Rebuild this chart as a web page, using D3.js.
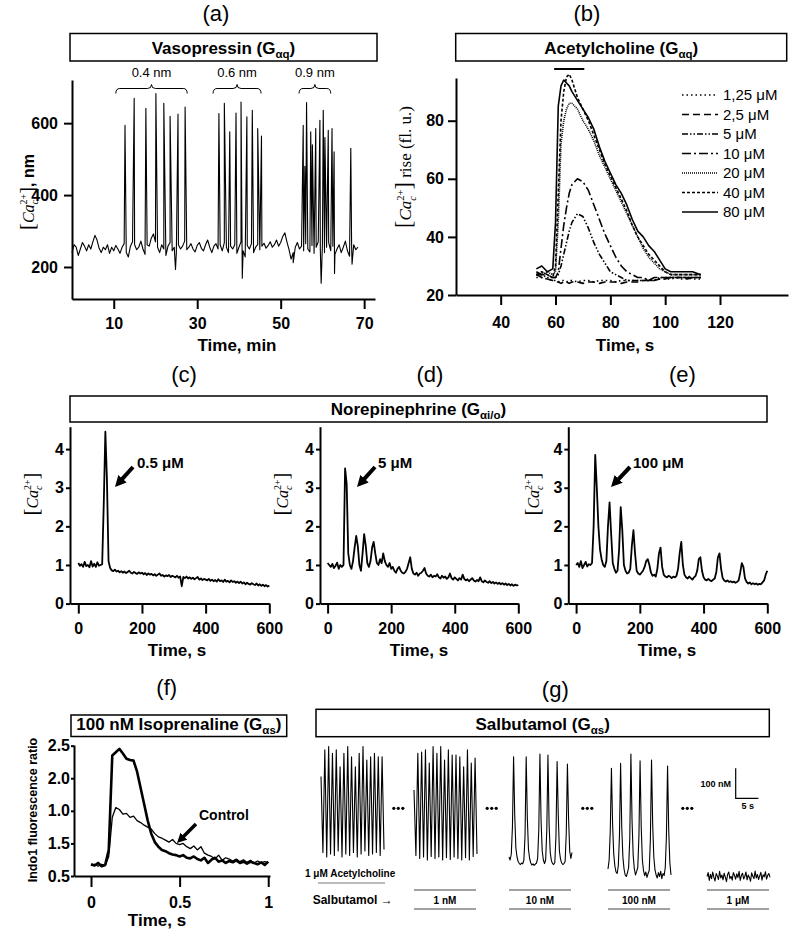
<!DOCTYPE html>
<html lang="en">
<head>
<meta charset="UTF-8">
<title>GPCR calcium responses</title>
<script src="https://d3js.org/d3.v7.min.js"></script>
<style>
  body { margin: 0; background: #fff; }
  svg { display: block; }
  .axis path, .axis line { stroke: #000; stroke-width: 2px; }
  .axis text { font-family: "Liberation Sans", Arial, sans-serif; font-weight: bold; font-size: 16px; fill: #000; }
  .trace { fill: none; stroke: #000; stroke-linejoin: round; }
  .box { fill: #fff; stroke: #000; stroke-width: 1.5px; }
</style>
</head>
<body>
<svg id="chart" width="790" height="930"></svg>
<script>
// ---------- data ----------

// (a) vasopressin: baseline sampled every 0.5 min, spikes added on top
const vasoStep = 0.5;
const vasoBase = [
  240, 262, 255, 232, 250, 268, 258, 245, 262, 250,
  270, 288, 275, 252, 240, 255, 248, 262, 238, 255,
  245, 260, 250, 238, 255, 265, 240, 228, 258, 270,
  262, 248, 255, 272, 250, 235, 262, 258, 280, 292,
  270, 255, 240, 262, 250, 232, 258, 268, 245, 255,
  240, 262, 250, 258, 272, 248, 255, 265, 250, 242,
  260, 268, 252, 245, 262, 275, 255, 240, 258, 265,
  250, 262, 245, 268, 255, 240, 258, 250, 262, 238,
  255, 270, 245, 228, 260, 250, 265, 240, 255, 262,
  248, 258, 266, 252, 260, 270, 255, 262, 275, 258,
  268, 285, 295, 270, 248, 222, 240, 255, 268, 250,
  258, 245, 265, 250, 242, 260, 238, 255, 270, 248,
  262, 240, 255, 268, 245, 258, 235, 250, 262, 240,
  255, 272, 245, 230, 258, 262, 248, 255
];
const vasoSpikeT = [12.7, 14.9, 17.7, 20.1, 22.0, 23.5, 24.8, 25.4, 27.1,
  35.2, 36.5, 37.8, 39.3, 40.5, 40.8, 41.9, 43.2, 44.5, 45.4,
  53.0, 55.4, 55.8, 56.2, 57.2, 57.6, 58.4, 59.4, 59.7, 60.2, 60.6, 61.4, 62.3, 62.8, 62.9, 66.8, 67.1];
const vasoSpikeV = [594, 669, 641, 682, 655, 619, 193, 625, 645,
  627, 655, 576, 628, 659, 169, 618, 636, 585, 564,
  212, 594, 480, 657, 576, 540, 585, 608, 155, 636, 560, 580, 585, 520, 182, 530, 208];
const vasoDoses = ["0.4 nm", "0.6 nm", "0.9 nm"];
const vasoDoseFrom = [10.5, 33.8, 54.4];
const vasoDoseTo = [27.6, 45.3, 62.0];
const vasoXTicks = [10, 30, 50, 70];
const vasoYTicks = [200, 400, 600];

// (b) acetylcholine dose series
const achTime = [53, 55, 57, 59, 60, 61, 62, 63, 64, 65, 66, 68, 70, 72, 74, 76, 78,
  80, 82, 84, 86, 88, 90, 92, 94, 96, 98, 100, 102, 104, 106, 108, 110, 113];
const ach125 = [26, 26, 25.5, 25, 25, 24.5, 25, 25, 24.5, 25, 25, 24.5, 25, 25, 24.5, 25, 25,
  25, 24.5, 25, 25, 25, 25, 25, 25.5, 25, 25.5, 25.5, 25.5, 26, 25.5, 26, 25.5, 25.5];
const ach25 = [27, 26, 25.5, 25, 24.5, 24.5, 24, 24.5, 24.5, 24, 24.5, 24.5, 24, 24.5, 24.5, 24, 24.5,
  24.5, 24.5, 24, 24.5, 24.5, 24.5, 25, 25, 25, 25.5, 25.5, 26, 26, 26, 25.5, 26, 26];
const ach5 = [27, 27, 26, 26, 26, 27, 30, 34, 38, 42, 45, 48, 47, 43, 38, 34, 31,
  28, 27, 26, 25, 25, 25, 25, 25, 25, 26, 26, 26, 26, 26, 26, 26, 26];
const ach10 = [28, 27, 27, 26, 26, 28, 36, 44, 50, 55, 58, 60, 59, 56, 51, 46, 41,
  37, 33, 30, 28, 27, 26, 26, 25, 26, 26, 26, 26, 26, 26, 26, 26, 26];
const ach20 = [27, 27, 28, 27, 28, 45, 72, 80, 84, 86, 86, 84, 80, 77, 73, 68, 64,
  60, 56, 52, 48, 44, 40, 36, 33, 31, 29, 28, 27, 27, 27, 27, 27, 27];
const ach40 = [27, 28, 27, 26, 30, 55, 80, 90, 95, 96, 94, 88, 84, 80, 75, 70, 65,
  61, 57, 53, 49, 44, 40, 37, 34, 32, 30, 28, 27, 27, 27, 27, 27, 27];
const ach80 = [29, 30, 28, 29, 45, 85, 92, 94, 93, 92, 90, 87, 84, 81, 77, 71, 66,
  62, 58, 55, 51, 46, 42, 40, 37, 35, 32, 29, 28, 28, 28, 28, 28, 27];
const achConc = ["1,25 μM", "2,5 μM", "5 μM", "10 μM", "20 μM", "40 μM", "80 μM"];
const achBar = [59.5, 70.5];
const achXTicks = [40, 60, 80, 100, 120];
const achYTicks = [20, 40, 60, 80];

// (c)-(e) norepinephrine, sampled every 5 s from 0 to 600 s
const neStep = 5;
const ne05 = [
  1.05, 0.98, 1.02, 0.95, 1.08, 0.97, 1.00, 0.94, 1.10, 0.96,
  1.03, 0.95, 1.07, 0.98, 1.00, 1.02, 2.60, 4.45, 3.20, 1.10,
  0.92, 0.86, 0.84, 0.88, 0.83, 0.85, 0.81, 0.84, 0.80, 0.83,
  0.79, 0.82, 0.85, 0.80, 0.78, 0.82, 0.79, 0.77, 0.81, 0.78,
  0.80, 0.76, 0.79, 0.74, 0.78, 0.75, 0.77, 0.73, 0.76, 0.72,
  0.75, 0.78, 0.72, 0.74, 0.70, 0.73, 0.71, 0.74, 0.69, 0.72,
  0.70, 0.68, 0.72, 0.67, 0.70, 0.45, 0.69, 0.66, 0.70, 0.65,
  0.68, 0.64, 0.67, 0.63, 0.66, 0.69, 0.62, 0.65, 0.61, 0.64,
  0.62, 0.60, 0.64, 0.59, 0.62, 0.58, 0.61, 0.57, 0.63, 0.58,
  0.60, 0.56, 0.62, 0.57, 0.59, 0.55, 0.60, 0.56, 0.58, 0.54,
  0.57, 0.53, 0.57, 0.52, 0.55, 0.50, 0.54, 0.51, 0.49, 0.53,
  0.50, 0.48, 0.52, 0.47, 0.50, 0.46, 0.49, 0.45, 0.48, 0.44,
  0.47
];
const ne5 = [
  1.05, 1.00, 0.95, 1.03, 0.92, 0.98, 1.06, 0.90, 1.00, 0.95,
  1.00, 3.50, 3.10, 1.30, 1.00, 0.90, 1.10, 1.45, 1.75, 1.50,
  1.00, 0.85, 1.30, 1.80, 1.50, 1.05, 0.95, 1.10, 1.45, 1.60,
  1.30, 1.05, 1.00, 1.15, 1.05, 1.30, 1.10, 1.00, 0.95, 1.05,
  0.90, 0.95, 0.85, 0.80, 0.90, 0.95, 0.85, 0.80, 0.78, 0.82,
  0.90, 1.05, 1.20, 0.90, 0.78, 0.75, 0.80, 0.72, 0.78, 0.80,
  0.85, 0.92, 0.78, 0.72, 0.70, 0.75, 0.68, 0.72, 0.70, 0.76,
  0.68, 0.65, 0.72, 0.67, 0.70, 0.64, 0.68, 0.78, 0.66, 0.62,
  0.68, 0.64, 0.60, 0.66, 0.62, 0.75, 0.64, 0.60, 0.63, 0.58,
  0.62, 0.66, 0.60, 0.57, 0.61, 0.58, 0.68, 0.58, 0.55, 0.60,
  0.56, 0.54, 0.58, 0.53, 0.56, 0.52, 0.55, 0.51, 0.54, 0.50,
  0.53, 0.49, 0.52, 0.48, 0.51, 0.47, 0.50, 0.46, 0.49, 0.47,
  0.48
];
const ne100 = [
  1.00, 1.05, 0.95, 1.10, 0.92, 1.00, 1.08, 0.96, 1.02, 1.00,
  1.05, 2.00, 3.85, 3.00, 2.00, 1.40, 1.15, 1.00, 0.95, 1.10,
  2.00, 2.62, 1.80, 1.05, 0.90, 0.80, 0.85, 1.40, 2.50, 1.90,
  1.00, 0.85, 0.78, 0.80, 0.90, 1.50, 1.90, 1.30, 0.85, 0.78,
  0.75, 0.80, 0.85, 0.95, 1.10, 1.15, 1.00, 0.80, 0.72, 0.75,
  0.70, 0.90, 1.30, 1.45, 0.95, 0.75, 0.70, 0.68, 0.72, 0.70,
  0.66, 0.70, 0.68, 0.72, 0.90, 1.30, 1.60, 1.00, 0.75, 0.68,
  0.65, 0.70, 0.66, 0.62, 0.68, 0.72, 0.85, 1.15, 1.20, 0.85,
  0.68, 0.62, 0.60, 0.64, 0.60, 0.58, 0.62, 0.65, 0.82, 1.20,
  1.30, 0.90, 0.66, 0.60, 0.57, 0.60, 0.56, 0.58, 0.55, 0.57,
  0.54, 0.56, 0.60, 0.80, 1.05, 0.95, 0.65, 0.56, 0.52, 0.55,
  0.50, 0.53, 0.50, 0.52, 0.49, 0.51, 0.50, 0.55, 0.60, 0.75,
  0.85
];
const neDoses = ["0.5 μM", "5 μM", "100 μM"];
const neXTicks = [0, 200, 400, 600];
const neYTicks = [0, 1, 2, 3, 4];

// (f) isoprenaline vs control, sampled every 0.02 s
const isoStep = 0.02;
const isoValues = [
  0.68, 0.66, 0.70, 0.65, 0.67, 0.90, 2.35, 2.40, 2.45, 2.38,
  2.30, 2.28, 2.27, 2.10, 1.85, 1.60, 1.35, 1.15, 1.02, 0.95,
  0.90, 0.88, 0.85, 0.83, 0.82, 0.80, 0.82, 0.78, 0.77, 0.80,
  0.76, 0.74, 0.78, 0.70, 0.75, 0.78, 0.72, 0.74, 0.70, 0.73,
  0.71, 0.74, 0.70, 0.72, 0.69, 0.72, 0.70, 0.68, 0.71, 0.67,
  0.72
];
const ctrlValues = [
  0.66, 0.68, 0.65, 0.68, 0.66, 0.80, 1.40, 1.55, 1.52, 1.45,
  1.46, 1.40, 1.42, 1.35, 1.32, 1.28, 1.25, 1.22, 1.15, 1.10,
  1.08, 1.05, 1.02, 1.06, 1.00, 0.98, 1.00, 0.95, 0.92, 0.96,
  0.90, 0.95, 0.85, 0.82, 0.80, 0.76, 0.82, 0.74, 0.78, 0.76,
  0.73, 0.76, 0.72, 0.75, 0.71, 0.74, 0.70, 0.73, 0.70, 0.72,
  0.70
];
const isoXTicks = [0, 0.5, 1];
const isoYTicks = [0.5, 1.0, 1.5, 2.0, 2.5];
const isoYLabels = ["0.5", "1.5", "1.0", "2.0", "2.5"];

// (g) salbutamol, each recording segment is ~13.85 s long (values in nM)
const salbDur = 13.85;
const salbAch = [
  428, 175, 517, 160, 528, 170, 506, 165, 517, 180,
  461, 160, 506, 170, 528, 165, 494, 175, 461, 160,
  506, 170, 528, 180, 483, 165, 494, 170, 506, 175,
  494, 165, 494, 185
];
const salb1nM = [
  383, 165, 506, 155, 510, 160, 517, 150, 473, 162,
  528, 155, 506, 160, 528, 150, 483, 158, 517, 152,
  500, 160, 500, 155, 494, 150, 461, 158, 517, 150,
  473, 162, 490, 170
];
const salb10nM = [
  160, 150, 170, 260, 494, 300, 190, 160, 145, 138,
  135, 140, 137, 150, 230, 494, 290, 185, 155, 140,
  133, 137, 132, 136, 140, 155, 250, 503, 280, 180,
  150, 138, 150, 250, 500, 270, 175, 148, 138, 135,
  142, 230, 478, 300, 180, 152, 140, 135, 138, 145,
  240, 470, 290, 180, 155, 175
];
const salb100nM = [
  120, 150, 250, 456, 270, 170, 130, 110, 105, 130,
  230, 472, 260, 160, 120, 100, 95, 108, 125, 220,
  503, 280, 165, 120, 100, 112, 125, 230, 481, 260,
  150, 115, 98, 110, 92, 105, 115, 220, 483, 270,
  160, 118, 100, 90, 108, 95, 112, 88, 105, 98,
  125, 230, 463, 250, 140, 100
];
const salb1uM = [
  95, 108, 82, 102, 88, 110, 92, 80, 105, 97,
  85, 112, 90, 100, 84, 106, 93, 78, 102, 110,
  88, 96, 83, 108, 99, 86, 104, 91, 112, 82,
  98, 106, 87, 95, 110, 84, 100, 92, 79, 107,
  96, 88, 113, 90, 102, 85, 97, 109, 83, 101,
  94, 111, 86, 99, 105, 92
];
const salbConc = ["1 nM", "10 nM", "100 nM", "1 μM"];

// ---------- drawing ----------
const svg = d3.select("#chart");
const SANS = "'Liberation Sans', Arial, Helvetica, sans-serif";
const SERIF = "'Liberation Serif', 'Times New Roman', serif";

function label(x, y, txt, size, weight, anchor) {
  return svg.append("text")
    .attr("x", x).attr("y", y)
    .attr("text-anchor", anchor || "middle")
    .style("font-family", SANS)
    .style("font-size", size + "px")
    .style("font-weight", weight || "normal")
    .text(txt);
}

// framed title, e.g. "Vasopressin (Gαq)"
function titleBox(x, y, w, h, name, sub, baseline) {
  svg.append("rect").attr("class", "box")
    .attr("x", x).attr("y", y).attr("width", w).attr("height", h);
  const t = svg.append("text")
    .attr("x", x + w / 2).attr("y", baseline)
    .attr("text-anchor", "middle")
    .style("font-family", SANS).style("font-size", "17px").style("font-weight", "bold");
  t.append("tspan").text(name + " (G");
  t.append("tspan").text(sub).attr("dy", 4).style("font-size", "11.5px");
  t.append("tspan").text(")").attr("dy", -4);
}

// rotated [Ca_c^2+] label with stacked sub/superscript
function caLabel(cx, cy, size, suffix, suffixSans) {
  const t = svg.append("text")
    .attr("transform", `translate(${cx},${cy}) rotate(-90)`)
    .attr("y", size * 0.35)
    .attr("text-anchor", "middle")
    .style("font-family", SERIF)
    .style("font-size", size + "px");
  t.append("tspan").text("[").style("font-size", (size * 1.3) + "px");
  t.append("tspan").text("Ca").style("font-style", "italic");
  const sup = t.append("tspan").text("2+").attr("dy", -size * 0.42).style("font-size", (size * 0.62) + "px");
  const sub = t.append("tspan").text("c").attr("dy", size * 0.72)
    .style("font-style", "italic").style("font-size", (size * 0.62) + "px");
  const close = t.append("tspan").text("]").attr("dy", -size * 0.3).style("font-size", (size * 1.3) + "px");
  if (suffix) {
    const s = t.append("tspan").text(suffix);
    if (suffixSans) s.style("font-family", SANS).style("font-weight", "bold");
  }
  const w1 = sup.node().getComputedTextLength();
  const w2 = sub.node().getComputedTextLength();
  sub.attr("dx", -w1);
  close.attr("dx", w1 - w2);
}

const defs = svg.append("defs");
defs.append("marker").attr("id", "head")
  .attr("viewBox", "0 0 10 10").attr("refX", 2).attr("refY", 5)
  .attr("markerWidth", 2.8).attr("markerHeight", 2.8).attr("orient", "auto")
  .append("path").attr("d", "M0,0L10,5L0,10z").attr("fill", "#000");

function arrow(x1, y1, x2, y2, w) {
  // shorten the shaft so the head tip lands on (x2, y2)
  const len = Math.hypot(x2 - x1, y2 - y1), back = w * 2.8 * 0.8;
  const ex = x2 - (x2 - x1) / len * back, ey = y2 - (y2 - y1) / len * back;
  svg.append("line").attr("x1", x1).attr("y1", y1).attr("x2", ex).attr("y2", ey)
    .attr("stroke", "#000").attr("stroke-width", w).attr("marker-end", "url(#head)");
}

// ===== (a) Vasopressin =====
label(216, 20.5, "(a)", 22);
titleBox(70, 33.5, 307, 27.5, "Vasopressin", "αq", 54);

const xa = d3.scaleLinear().domain([0, 72.6]).range([72, 375]);
const ya = d3.scaleLinear().domain([111, 720]).range([299, 80]);

svg.append("g").attr("class", "axis").attr("transform", "translate(0,299)")
  .call(d3.axisBottom(xa).tickValues(vasoXTicks).tickSize(10).tickSizeOuter(0).tickPadding(9));
svg.append("g").attr("class", "axis").attr("transform", "translate(72,0)")
  .call(d3.axisLeft(ya).tickValues(vasoYTicks).tickSize(8).tickSizeOuter(0).tickPadding(6));

const vasoPts = vasoBase.map((v, i) => [i * vasoStep, v])
  .concat(vasoSpikeT.map((t, i) => [t, vasoSpikeV[i]]))
  .sort((p, q) => p[0] - q[0]);
svg.append("path").datum(vasoPts).attr("class", "trace")
  .attr("stroke-width", 1.1)
  .attr("d", d3.line().x(d => xa(d[0])).y(d => ya(d[1])));

vasoDoses.forEach((dose, i) => {
  const x1 = xa(vasoDoseFrom[i]), x2 = xa(vasoDoseTo[i]), m = (x1 + x2) / 2, y = 88.5;
  const p = d3.path();
  p.moveTo(x1, y + 5);
  p.quadraticCurveTo(x1, y, x1 + 4, y);
  p.lineTo(m - 4, y);
  p.quadraticCurveTo(m, y, m, y - 4);
  p.quadraticCurveTo(m, y, m + 4, y);
  p.lineTo(x2 - 4, y);
  p.quadraticCurveTo(x2, y, x2, y + 5);
  svg.append("path").attr("d", p.toString()).attr("fill", "none").attr("stroke", "#000").attr("stroke-width", 1);
  label(m, 77, dose, 13);
});

label(237, 351, "Time, min", 17, "bold");
caLabel(28, 192, 16, ", nm", true);

// ===== (b) Acetylcholine =====
label(587, 20.5, "(b)", 22);
titleBox(455.7, 33.5, 331, 27.5, "Acetylcholine", "αq", 54);

const xb = d3.scaleLinear().domain([23.7, 144.8]).range([456, 788]);
const yb = d3.scaleLinear().domain([20, 94.7]).range([295, 78]);

svg.append("g").attr("class", "axis").attr("transform", "translate(0,295)")
  .call(d3.axisBottom(xb).tickValues(achXTicks).tickSize(10).tickSizeOuter(0).tickPadding(12));
svg.append("g").attr("class", "axis").attr("transform", "translate(456,0)")
  .call(d3.axisLeft(yb).tickValues(achYTicks).tickSize(8).tickSizeOuter(0).tickPadding(4));

const achSeries = [ach125, ach25, ach5, ach10, ach20, ach40, ach80];
const achDash = ["1.5,3", "7,4", "6,2,1.5,2,1.5,2", "9,3,2,3", "1,1", "3,2", null];
const achLine = d3.line().x((d, i) => xb(achTime[i])).y(d => yb(d));
achSeries.forEach((vals, k) => {
  svg.append("path").datum(vals).attr("class", "trace")
    .attr("stroke-width", 1.6)
    .attr("stroke-dasharray", achDash[k])
    .attr("d", achLine);
  const ly = 95 + k * 19.5;
  svg.append("line").attr("x1", 682).attr("x2", 718).attr("y1", ly).attr("y2", ly)
    .attr("stroke", "#000").attr("stroke-width", 1.6).attr("stroke-dasharray", achDash[k]);
  label(723, ly + 5, achConc[k], 15, "normal", "start");
});
svg.append("line").attr("x1", xb(achBar[0])).attr("x2", xb(achBar[1]))
  .attr("y1", 69).attr("y2", 69).attr("stroke", "#000").attr("stroke-width", 2);

label(625, 351, "Time, s", 17, "bold");
caLabel(405, 167, 17, " rise (fl. u.)", false);

// ===== (c)-(e) Norepinephrine =====
titleBox(70, 396, 697, 26, "Norepinephrine ", "αi/o", 415);
const yNe = d3.scaleLinear().domain([0, 4.58]).range([603.6, 426.7]);
const nePanels = [
  { vals: ne05, left: 70, zero: 78.3, right: 269.3, letter: "(c)", lx: 184, ylx: 32, tx: 177, arrow: [133, 467, 115, 487], dx: 137 },
  { vals: ne5, left: 320, zero: 327.6, right: 518.3, letter: "(d)", lx: 430, ylx: 282, tx: 419, arrow: [375, 467, 357, 487], dx: 378 },
  { vals: ne100, left: 568.3, zero: 576.1, right: 767.3, letter: "(e)", lx: 682.5, ylx: 533, tx: 667, arrow: [630, 467, 611, 487], dx: 633 }
];
nePanels.forEach((p, k) => {
  label(p.lx, 382, p.letter, 22);
  const x0 = d3.scaleLinear().domain([0, 600]).range([p.zero, p.right]);
  const x = d3.scaleLinear().domain([x0.invert(p.left), 600]).range([p.left, p.right]);
  svg.append("g").attr("class", "axis").attr("transform", "translate(0,603.6)")
    .call(d3.axisBottom(x).tickValues(neXTicks).tickSize(10).tickSizeOuter(0).tickPadding(9));
  svg.append("g").attr("class", "axis").attr("transform", `translate(${p.left},0)`)
    .call(d3.axisLeft(yNe).tickValues(neYTicks).tickFormat(d3.format("d"))
      .tickSize(4).tickSizeOuter(0).tickPadding(2));
  svg.append("path").datum(p.vals).attr("class", "trace")
    .attr("stroke-width", 1.8)
    .attr("d", d3.line().x((d, i) => x(i * neStep)).y(d => yNe(d)));
  label(p.tx, 656, "Time, s", 17, "bold");
  caLabel(p.ylx, 494, 16, "", false);
  label(p.dx, 468, neDoses[k], 15, "bold", "start");
  arrow(p.arrow[0], p.arrow[1], p.arrow[2], p.arrow[3], 4);
});

// ===== (f) Isoprenaline =====
label(166.7, 695.4, "(f)", 22);
titleBox(71, 715, 215.7, 21.5, "100 nM Isoprenaline", "αs", 730);
const xf = d3.scaleLinear().domain([-0.096, 1.01]).range([74, 270]);
const yf = d3.scaleLinear().domain([0.5, 2.51]).range([876, 745]);
svg.append("g").attr("class", "axis").attr("transform", "translate(0,876)")
  .call(d3.axisBottom(xf).tickValues(isoXTicks).tickSize(11).tickSizeOuter(0).tickPadding(10)
    .tickFormat(d => d === 0.5 ? "0.5" : String(d)));
svg.append("g").attr("class", "axis").attr("transform", "translate(74,0)")
  .call(d3.axisLeft(yf).tickValues(isoYTicks).tickSize(3).tickSizeOuter(0).tickPadding(1)
    .tickFormat((d, i) => isoYLabels[i]));
const isoLine = d3.line().x((d, i) => xf(i * isoStep)).y(d => yf(d));
svg.append("path").datum(ctrlValues).attr("class", "trace").attr("stroke-width", 1.3).attr("d", isoLine);
svg.append("path").datum(isoValues).attr("class", "trace").attr("stroke-width", 2.6).attr("d", isoLine);
label(157, 926, "Time, s", 17, "bold");
svg.append("text")
  .attr("transform", "translate(33,810) rotate(-90)")
  .attr("y", 4).attr("text-anchor", "middle")
  .style("font-family", SANS).style("font-size", "12.5px").style("font-weight", "bold")
  .text("Indo1 fluorescence ratio");
label(199, 820, "Control", 14, "bold", "start");
arrow(196, 824, 177, 843, 3.5);

// ===== (g) Salbutamol =====
label(555.3, 697, "(g)", 22);
titleBox(316, 709.3, 453.3, 27.4, "Salbutamol", "αs", 730);
const segX = [321, 414, 509, 608, 707], segW = 63;
const gx = d3.scaleLinear().domain([0, salbDur]).range([0, segW]);
const gy = d3.scaleLinear().domain([0, 500]).range([905, 755]);
[salbAch, salb1nM, salb10nM, salb100nM, salb1uM].forEach((vals, k) => {
  const dt = salbDur / (vals.length - 1);
  svg.append("path").datum(vals).attr("class", "trace")
    .attr("transform", `translate(${segX[k]},0)`)
    .attr("stroke-width", 1.1)
    .attr("d", d3.line().x((d, i) => gx(i * dt)).y(d => gy(d)));
});
// ellipses between segments
[398.3, 491.7, 587.3, 687.3].forEach(cx => {
  [-4.5, 0, 4.5].forEach(o => svg.append("circle").attr("cx", cx + o).attr("cy", 808.3).attr("r", 1.6).attr("fill", "#000"));
});
// scale bar: 100 nM by 5 s
const sbx = 735.7, sby = 798.3;
svg.append("path").attr("fill", "none").attr("stroke", "#000").attr("stroke-width", 1.2)
  .attr("d", `M${sbx},${sby - (gy(0) - gy(100))}V${sby}H${sbx + gx(5)}`);
label(731, 786.5, "100 nM", 9, "bold", "end");
label(747.7, 809, "5 s", 9, "bold");

label(305, 877, "1 μM Acetylcholine", 10, "bold", "start");
svg.append("line").attr("x1", 318).attr("x2", 385).attr("y1", 883).attr("y2", 883).attr("stroke", "#777").attr("stroke-width", 1);
label(312.7, 904, "Salbutamol →", 12, "bold", "start");
salbConc.forEach((c, i) => {
  const x1 = segX[i + 1], x2 = segX[i + 1] + segW - 1;
  svg.append("line").attr("x1", x1).attr("x2", x2).attr("y1", 890).attr("y2", 890).attr("stroke", "#444").attr("stroke-width", 1.2);
  svg.append("line").attr("x1", x1).attr("x2", x2).attr("y1", 909).attr("y2", 909).attr("stroke", "#444").attr("stroke-width", 1.2);
  label((x1 + x2) / 2, 903.5, c, 10, "bold");
});
</script>
</body>
</html>
